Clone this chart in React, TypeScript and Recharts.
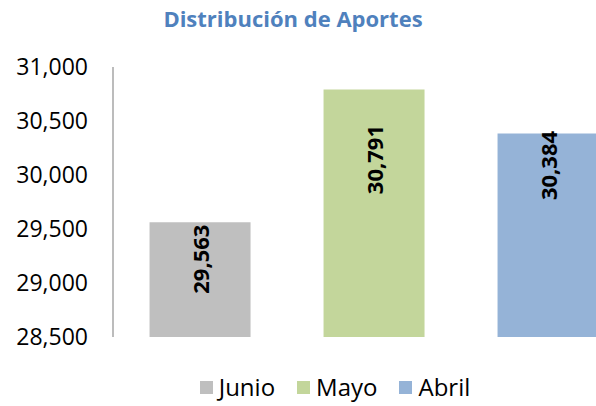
import React from 'react';
import { BarChart, Bar, XAxis, YAxis, Cell, LabelList } from 'recharts';

const categories = ['Junio', 'Mayo', 'Abril'];
const aportes = [29563, 30791, 30384];
const yTicks = [28500, 29000, 29500, 30000, 30500, 31000];
const colors = ['#bfbfbf', '#c3d69b', '#95b3d7'];
// distancia (px) del centro de la etiqueta al tope de cada barra
const labelDrop = [37, 70, 32];

const data = categories.map((name, i) => ({ name, value: aportes[i] }));

const font = '"Open Sans", "Noto Sans", sans-serif';
const fmt = (v: number) => v.toLocaleString('en-US');

const RotatedLabel = (props: any) => {
  const { x, y, width, value, index } = props;
  const cx = x + width / 2;
  const cy = y + labelDrop[index];
  return (
    <text
      x={cx}
      y={cy}
      transform={`rotate(-90, ${cx}, ${cy})`}
      textAnchor="middle"
      dominantBaseline="central"
      fontFamily={font}
      fontWeight={700}
      fontSize={22}
      fill="#000"
    >
      {fmt(value)}
    </text>
  );
};

export default function App() {
  return (
    <div style={{ position: 'absolute', left: 0, top: 0, width: 596, height: 406, overflow: 'hidden', background: '#fff', fontFamily: font }}>
      <div style={{ position: 'absolute', left: 0, width: 586, top: 3, textAlign: 'center', color: '#4f81bd', fontWeight: 700, fontSize: 22 }}>
        Distribución de Aportes
      </div>
      <BarChart width={640} height={406} data={data} margin={{ top: 67, right: 5, bottom: 69, left: 13 }} barCategoryGap="21%">
        <XAxis dataKey="name" hide />
        <YAxis
          width={100}
          domain={[28500, 31000]}
          ticks={yTicks}
          tickFormatter={fmt}
          tickLine={false}
          tickSize={0}
          tickMargin={25}
          axisLine={{ stroke: '#a6a6a6', strokeWidth: 1.5 }}
          tick={{ fill: '#000', fontSize: 23, fontFamily: font }}
        />
        <Bar dataKey="value" isAnimationActive={false}>
          {data.map((d, i) => (
            <Cell key={d.name} fill={colors[i]} />
          ))}
          <LabelList dataKey="value" content={RotatedLabel} />
        </Bar>
      </BarChart>
      <div style={{ position: 'absolute', top: 372, left: 0, width: 670, display: 'flex', justifyContent: 'center', fontSize: 24, color: '#000' }}>
        {categories.map((c, i) => (
          <div key={c} style={{ display: 'flex', alignItems: 'center', margin: '0 11px' }}>
            <span style={{ display: 'inline-block', width: 13, height: 13, background: colors[i], marginRight: 6 }} />
            <span style={{ lineHeight: '30px' }}>{c}</span>
          </div>
        ))}
      </div>
    </div>
  );
}
